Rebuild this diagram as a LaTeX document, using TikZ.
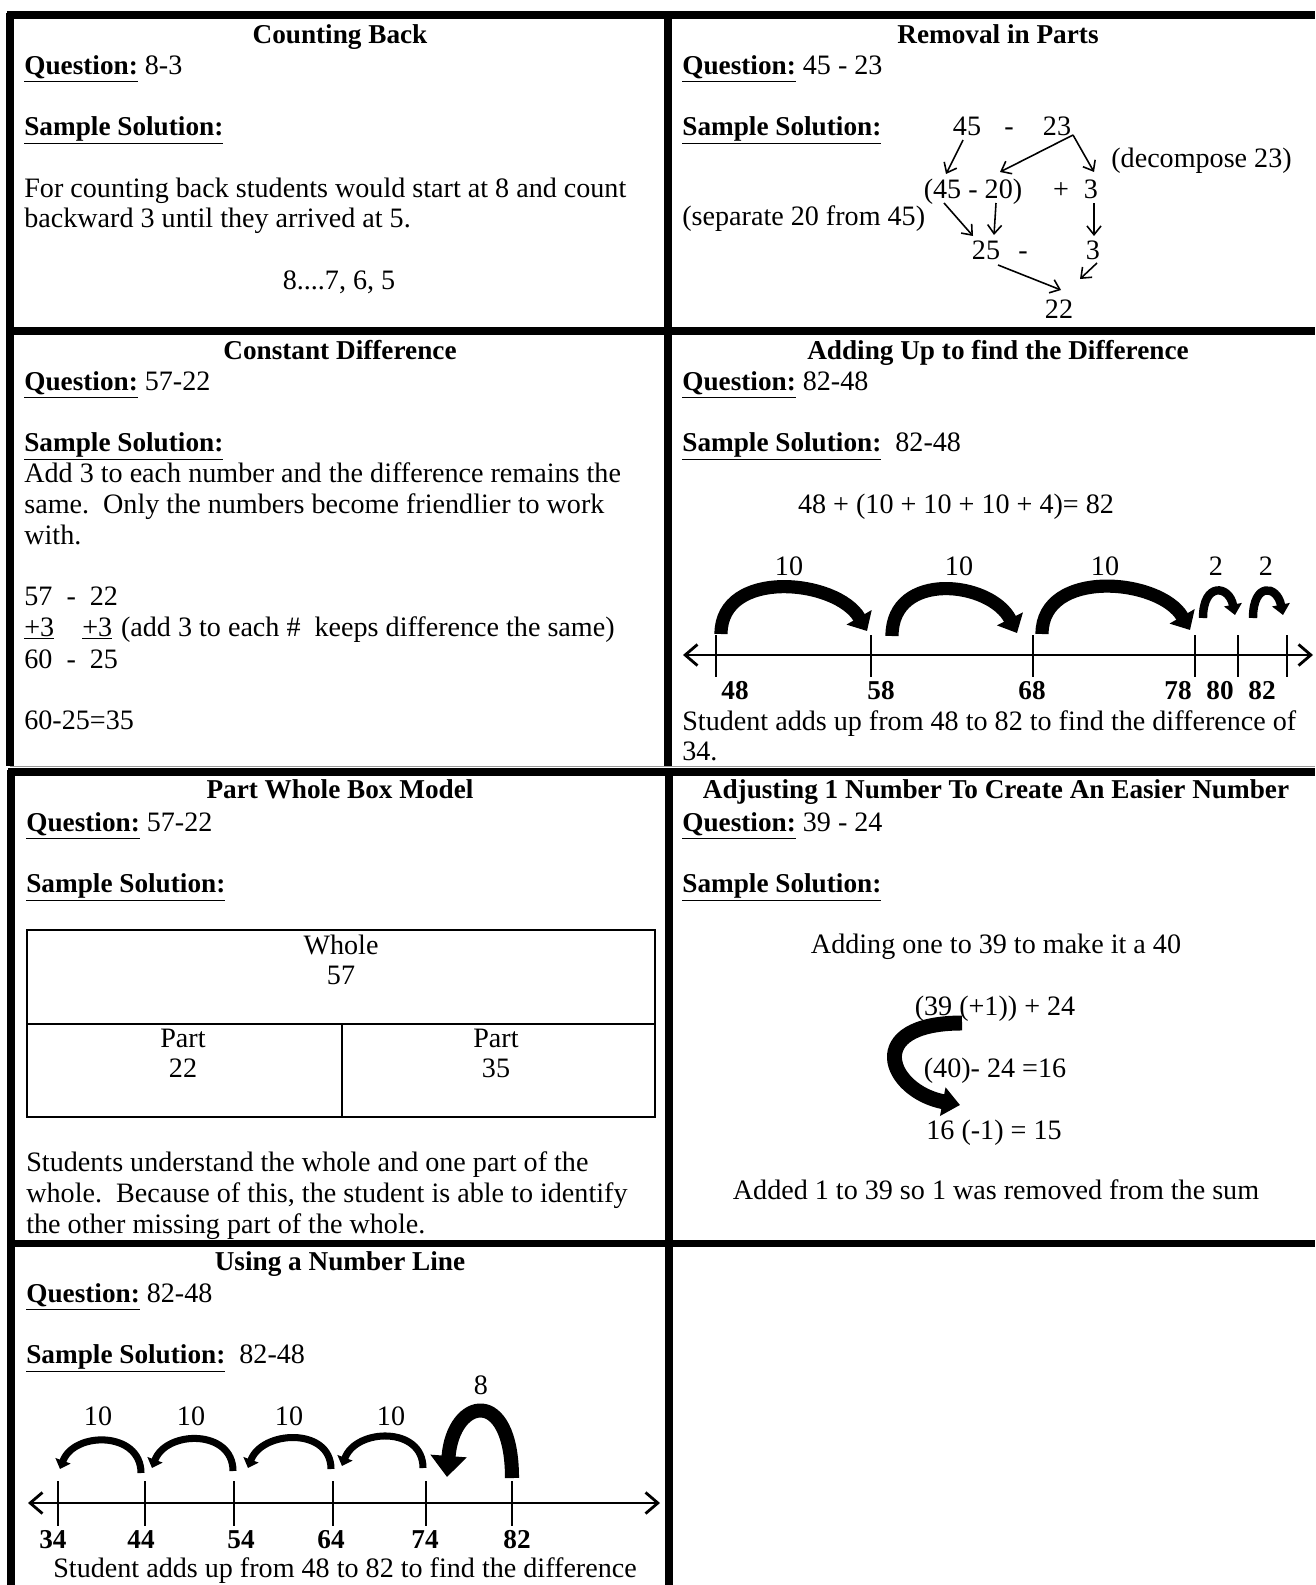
\documentclass[tikz,border=0pt]{standalone}
\usepackage{fontspec}
\setmainfont{Liberation Serif}
\usetikzlibrary{arrows.meta, positioning}
\newcommand{\body}{\fontsize{16}{17}\selectfont}
\newcommand{\headfont}{\fontsize{15.5}{17}\selectfont\bfseries}
\newcommand{\lbl}[1]{\underline{\textbf{\fontsize{15.5}{17}\selectfont #1}}}

\begin{document}
\begin{tikzpicture}[
        x=0.02cm, y=-0.02cm,
        frame/.style={line width=4pt},
        hair/.style={line width=0.5pt, black!40},
        txt/.style={anchor=west, inner sep=0pt, text height=8pt, text depth=0pt, font=\body},
        mid/.style={txt, anchor=center},
        head/.style={mid, font=\headfont},
        num/.style={mid, font=\headfont},
        tick/.style={line width=1.6pt},
        axis/.style={line width=1.6pt, {Straight Barb[length=7pt,width=12pt]}-{Straight Barb[length=7pt,width=12pt]}},
        jump/.style={line width=7.5pt, -{Triangle[length=9pt,width=16pt]}},
        smalljump/.style={line width=4.8pt, -{Triangle[length=6pt,width=10pt]}},
        hop/.style={line width=4pt, -{Triangle[length=5pt,width=9pt]}},
        bighop/.style={line width=8pt, -{Triangle[length=12pt,width=20pt]}},
        turn/.style={line width=8.5pt, -{Triangle[length=10pt,width=16pt]}},
        split/.style={line width=0.9pt, -{Straight Barb[length=5pt,width=8pt]}},
        cellbox/.style={line width=0.8pt}
    ]
    \useasboundingbox (0,0) rectangle (1315,1585);

    % table frames
    \draw[frame] (7,15) -- (1315,15);
    \draw[frame] (10,13) -- (10,766);
    \draw[frame] (668,15) -- (668,766);
    \draw[frame] (10,331) -- (1315,331);
    \draw[hair] (10,766) -- (1315,766);
    \draw[frame] (8,772) -- (1315,772);
    \draw[frame] (11,770) -- (11,1585);
    \draw[frame] (669,772) -- (669,1585);
    \draw[frame] (11,1243) -- (1315,1243);

    % Counting Back
    \node[head] (cbt) at (340,36) {Counting Back};
    \node[txt] (cbq) at (24,67) {\lbl{Question:} 8-3};
    \node[txt] (cbs) at (24,128) {\lbl{Sample Solution:}};
    \node[txt] (cb1) at (24,190) {For counting back students would start at 8 and count};
    \node[txt] (cb2) at (24,220) {backward 3 until they arrived at 5.};
    \node[mid] (cb3) at (339,282) {8....7, 6, 5};

    % Removal in Parts
    \node[head] (rpt) at (998,36) {Removal in Parts};
    \node[txt] (rpq) at (682,67) {\lbl{Question:} 45 - 23};
    \node[txt] (rps) at (682,128) {\lbl{Sample Solution:}};
    \node[mid] (a45) at (967,128) {45};
    \node[mid] (aminus) at (1009,128) {-};
    \node[mid] (a23) at (1057,128) {23};
    \node[txt] (dec) at (1111,160) {(decompose 23)};
    \node[mid] (b4520) at (973,191) {(45 - 20)};
    \node[mid] (bplus) at (1061,191) {+};
    \node[mid] (b3) at (1091,191) {3};
    \node[txt] (sep) at (682,218) {(separate 20 from 45)};
    \node[mid] (c25) at (986,252) {25};
    \node[mid] (cminus) at (1023,252) {-};
    \node[mid] (c3) at (1093,252) {3};
    \node[mid] (d22) at (1059,311) {22};
    \coordinate (s45) at (963,140);
    \coordinate (s45e) at (946,174);
    \coordinate (s23) at (1073,135);
    \coordinate (s20e) at (1000,172);
    \coordinate (s3e) at (1094,172);
    \coordinate (t45) at (944,203);
    \coordinate (t45e) at (973,236);
    \coordinate (t20) at (996,203);
    \coordinate (t20e) at (994,235);
    \coordinate (t3) at (1094,203);
    \coordinate (t3e) at (1094,236);
    \coordinate (u3) at (1097,263);
    \coordinate (u3e) at (1080,279);
    \coordinate (u25) at (998,265);
    \coordinate (u25e) at (1061,290);
    \draw[split] (s45) -- (s45e);
    \draw[split] (s23) -- (s20e);
    \draw[split] (s23) -- (s3e);
    \draw[split] (t45) -- (t45e);
    \draw[split] (t20) -- (t20e);
    \draw[split] (t3) -- (t3e);
    \draw[split] (u3) -- (u3e);
    \draw[split] (u25) -- (u25e);

    % Constant Difference
    \node[head] (cdt) at (340,352) {Constant Difference};
    \node[txt] (cdq) at (24,383) {\lbl{Question:} 57-22};
    \node[txt] (cds) at (24,444) {\lbl{Sample Solution:}};
    \node[txt] (cd1) at (24,475) {Add 3 to each number and the difference remains the};
    \node[txt] (cd2) at (24,506) {same.\ \ Only the numbers become friendlier to work};
    \node[txt] (cd3) at (24,537) {with.};
    \node[txt] (cd4) at (24,598) {57\enspace-\enspace22};
    \node[txt] (cd5) at (24,629) {\underline{+3}\hspace{16pt}\underline{+3}\hspace{5pt}(add 3 to each \#\ \ keeps difference the same)};
    \node[txt] (cd6) at (24,661) {60\enspace-\enspace25};
    \node[txt] (cd7) at (24,722) {60-25=35};

    % Adding Up to find the Difference
    \node[head] (aut) at (998,352) {Adding Up to find the Difference};
    \node[txt] (auq) at (682,383) {\lbl{Question:} 82-48};
    \node[txt] (aus) at (682,444) {\lbl{Sample Solution:}\ \ 82-48};
    \node[mid] (aueq) at (956,506) {48 + (10 + 10 + 10 + 4)= 82};
    \coordinate (aul) at (683,655);
    \coordinate (aur) at (1313,655);
    \draw[axis] (aul) -- (aur);
    \foreach \x/\lx/\v in {716/735/48, 871/881/58, 1033/1032/68, 1195/1178/78, 1238/1220/80, 1287/1262/82} {
        \draw[tick] (\x,635) -- (\x,677);
        \node[num] (au\v) at (\lx,692) {\v};
    }
    \coordinate (j1a) at (721,634);
    \coordinate (j1b) at (867,631);
    \coordinate (j2a) at (892,636);
    \coordinate (j2b) at (1017,633);
    \coordinate (j3a) at (1042,634);
    \coordinate (j3b) at (1190,630);
    \coordinate (j4a) at (1203,618);
    \coordinate (j4b) at (1235,615);
    \coordinate (j5a) at (1253,618);
    \coordinate (j5b) at (1283,615);
    \draw[jump] (j1a) .. controls +(0,-66) and +(-30,-52) .. (j1b);
    \draw[jump] (j2a) .. controls +(0,-66) and +(-26,-52) .. (j2b);
    \draw[jump] (j3a) .. controls +(0,-66) and +(-30,-52) .. (j3b);
    \draw[smalljump] (j4a) .. controls +(0,-36) and +(-6,-30) .. (j4b);
    \draw[smalljump] (j5a) .. controls +(0,-36) and +(-6,-30) .. (j5b);
    \node[mid] (au10a) at (789,568) {10};
    \node[mid] (au10b) at (959,568) {10};
    \node[mid] (au10c) at (1105,568) {10};
    \node[mid] (au2a) at (1216,568) {2};
    \node[mid] (au2b) at (1266,568) {2};
    \node[txt] (au1) at (682,723) {Student adds up from 48 to 82 to find the difference of};
    \node[txt] (au2) at (682,753) {34.};

    % Part Whole Box Model
    \node[head] (pwt) at (340,791) {Part Whole Box Model};
    \node[txt] (pwq) at (26,824) {\lbl{Question:} 57-22};
    \node[txt] (pws) at (26,885) {\lbl{Sample Solution:}};
    \draw[cellbox] (27,930) rectangle (655,1117);
    \draw[cellbox] (27,1024) -- (655,1024);
    \draw[cellbox] (342,1024) -- (342,1117);
    \node[mid] (wh) at (341,947) {Whole};
    \node[mid] (wh57) at (341,977) {57};
    \node[mid] (pl) at (183,1040) {Part};
    \node[mid] (pl22) at (183,1070) {22};
    \node[mid] (pr) at (496,1040) {Part};
    \node[mid] (pr35) at (496,1070) {35};
    \node[txt] (pw1) at (26,1164) {Students understand the whole and one part of the};
    \node[txt] (pw2) at (26,1195) {whole.\ \ Because of this, the student is able to identify};
    \node[txt] (pw3) at (26,1226) {the other missing part of the whole.};

    % Adjusting 1 Number
    \node[head] (ajt) at (996,791) {Adjusting 1 Number To Create An Easier Number};
    \node[txt] (ajq) at (682,824) {\lbl{Question:} 39 - 24};
    \node[txt] (ajs) at (682,885) {\lbl{Sample Solution:}};
    \node[mid] (aj1) at (996,946) {Adding one to 39 to make it a 40};
    \node[mid] (aj2) at (995,1008) {(39 (+1)) + 24};
    \node[mid] (aj3) at (995,1070) {(40)- 24 =16};
    \node[mid] (aj4) at (994,1132) {16 (-1) = 15};
    \node[mid] (aj5) at (996,1192) {Added 1 to 39 so 1 was removed from the sum};
    \coordinate (ct) at (962,1023);
    \coordinate (cb) at (960,1105);
    \draw[turn] (ct) .. controls +(-100,0) and +(-72,-14) .. (cb);

    % Using a Number Line
    \node[head] (nlt) at (340,1263) {Using a Number Line};
    \node[txt] (nlq) at (26,1295) {\lbl{Question:} 82-48};
    \node[txt] (nls) at (26,1356) {\lbl{Sample Solution:}\ \ 82-48};
    \coordinate (nll) at (28,1503);
    \coordinate (nlr) at (660,1503);
    \draw[axis] (nll) -- (nlr);
    \foreach \x/\lx/\v in {58/53/34, 145/141/44, 234/241/54, 333/331/64, 426/425/74, 512/517/82} {
        \draw[tick] (\x,1481) -- (\x,1526);
        \node[num] (nl\v) at (\lx,1541) {\v};
    }
    \coordinate (h1a) at (141,1473);
    \coordinate (h1b) at (60,1469);
    \coordinate (h2a) at (233,1471);
    \coordinate (h2b) at (152,1468);
    \coordinate (h3a) at (331,1469);
    \coordinate (h3b) at (248,1468);
    \coordinate (h4a) at (423,1468);
    \coordinate (h4b) at (342,1466);
    \coordinate (h5a) at (512,1478);
    \coordinate (h5b) at (447,1477);
    \draw[hop] (h1a) .. controls +(0,-42) and +(14,-38) .. (h1b);
    \draw[hop] (h2a) .. controls +(0,-42) and +(14,-38) .. (h2b);
    \draw[hop] (h3a) .. controls +(0,-42) and +(14,-38) .. (h3b);
    \draw[hop] (h4a) .. controls +(0,-42) and +(14,-38) .. (h4b);
    \draw[bighop] (h5a) .. controls +(0,-92) and +(6,-80) .. (h5b);
    \node[mid] (nl10a) at (98,1418) {10};
    \node[mid] (nl10b) at (191,1418) {10};
    \node[mid] (nl10c) at (289,1418) {10};
    \node[mid] (nl10d) at (391,1418) {10};
    \node[mid] (nl8) at (481,1387) {8};
    \node[txt] (nl1) at (53,1570) {Student adds up from 48 to 82 to find the difference};
\end{tikzpicture}
\end{document}
